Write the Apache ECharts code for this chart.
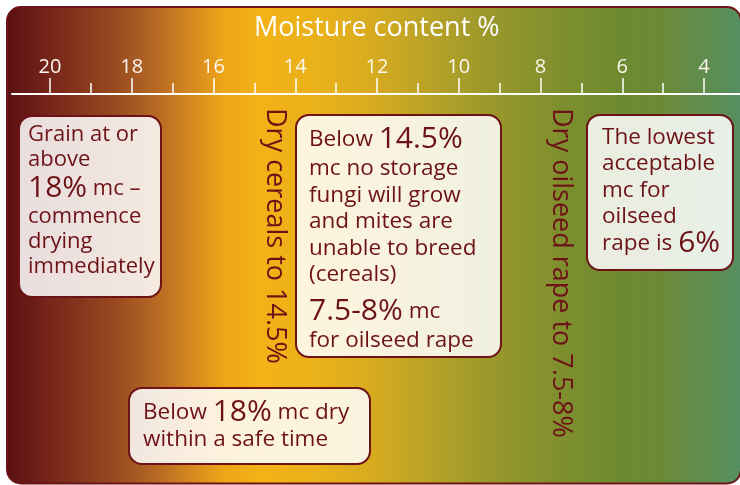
<!DOCTYPE html>
<html>
<head>
<meta charset="utf-8">
<script src="https://cdn.jsdelivr.net/npm/echarts@6/dist/echarts.min.js"></script>
<style>
  html, body { margin: 0; padding: 0; background: #fff; }
  #main { width: 740px; height: 485px; }
</style>
</head>
<body>
<div id="main"></div>
<script>
// moisture scale (reversed, wet on the left)
const tickValues = [20, 18, 16, 14, 12, 10, 8, 6, 4];
const targetValues = [14.5, 7.5];
const targetLabels = ['Dry cereals to 14.5%', 'Dry oilseed rape to 7.5-8%'];

const noteGrain = ['Grain at or', 'above', '{big|18%}{txt| mc –}', 'commence', 'drying', 'immediately'];
const noteStorage = ['Below {big|14.5%}', 'mc no storage', 'fungi will grow', 'and mites are',
  'unable to breed', '(cereals)', '{gap| }', '{big|7.5-8%}{txt| mc}', 'for oilseed rape'];
const noteRape = ['The lowest', 'acceptable', 'mc for', 'oilseed', 'rape is {bigT|6%}'];
const noteSafe = ['Below {big|18%}{txt| mc dry}', 'within a safe time'];

const DARK = '#6d1217';
const FONT = 'Open Sans';

const chart = echarts.init(document.getElementById('main'));

chart.setOption({
  backgroundColor: '#fff',
  animation: false,
  title: {
    text: 'Moisture content %',
    left: 254, top: 15, padding: 0,
    textStyle: { color: '#fff', fontFamily: FONT, fontSize: 27, fontWeight: 'normal' }
  },
  grid: [
    { left: 50, right: 36, top: 94, bottom: 0 },
    { left: 12, right: 0, top: 94, bottom: 0 }
  ],
  xAxis: [
    {
      type: 'value', gridIndex: 0, position: 'top', inverse: true,
      min: Math.min(...tickValues), max: Math.max(...tickValues),
      interval: tickValues[0] - tickValues[1],
      axisLine: { show: false, onZero: false },
      axisTick: { show: true, length: 16, lineStyle: { color: '#fff', width: 1.5 } },
      minorTick: { show: true, splitNumber: 2, length: 11, lineStyle: { color: '#fff', width: 1.5 } },
      splitLine: { show: false },
      axisLabel: { color: '#fbf6ee', fontFamily: FONT, fontSize: 20, margin: 17, showMinLabel: true, showMaxLabel: true }
    },
    {
      type: 'value', gridIndex: 1, position: 'top', min: 0, max: 1,
      axisLine: { show: true, onZero: false, lineStyle: { color: '#fff', width: 2 } },
      axisTick: { show: false }, axisLabel: { show: false }, splitLine: { show: false }
    }
  ],
  yAxis: [
    { type: 'value', gridIndex: 0, show: false, min: 0, max: 1 },
    { type: 'value', gridIndex: 1, show: false, min: 0, max: 1 }
  ],
  series: [{ type: 'scatter', xAxisIndex: 0, yAxisIndex: 0, data: [] }]
});

function noteBox(box, tx, ty, lines, fs, lh, bigLh) {
  const rich = {
    big: { fontFamily: FONT, fontSize: 30, lineHeight: bigLh || 32.5, fill: DARK },
    bigT: { fontFamily: FONT, fontSize: 30, lineHeight: 27, fill: DARK },
    txt: { fontFamily: FONT, fontSize: fs, lineHeight: lh, fill: DARK },
    gap: { fontFamily: FONT, fontSize: 4, lineHeight: 7, fill: DARK }
  };
  return [
    {
      type: 'rect', z: 10,
      shape: { x: box[0], y: box[1], width: box[2], height: box[3], r: 13 },
      style: { fill: 'rgba(255,255,255,0.86)', stroke: DARK, lineWidth: 2 }
    },
    {
      type: 'text', z: 11, x: tx, y: ty,
      style: {
        text: lines.join('\n'), fill: DARK, fontFamily: FONT, fontSize: fs, lineHeight: lh,
        align: 'left', verticalAlign: 'top', rich: rich
      }
    }
  ];
}

const panel = {
  type: 'rect', z: -10,
  shape: { x: 7, y: 7, width: 734, height: 476.5, r: 14 },
  style: {
    fill: {
      type: 'linear', x: 0, y: 0, x2: 1, y2: 0,
      colorStops: [
        { offset: 0, color: '#5c0f12' },
        { offset: 0.072, color: '#7b2a1b' },
        { offset: 0.14, color: '#95461f' },
        { offset: 0.195, color: '#b06424' },
        { offset: 0.249, color: '#d3861f' },
        { offset: 0.297, color: '#eda617' },
        { offset: 0.344, color: '#f3b217' },
        { offset: 0.426, color: '#e9b11a' },
        { offset: 0.494, color: '#d8ab1f' },
        { offset: 0.576, color: '#b8a227' },
        { offset: 0.657, color: '#9a982b' },
        { offset: 0.752, color: '#7f8f2e' },
        { offset: 0.834, color: '#6e8a30' },
        { offset: 0.888, color: '#6b8a38' },
        { offset: 0.943, color: '#618c4c' },
        { offset: 1, color: '#558f62' }
      ]
    },
    stroke: DARK, lineWidth: 2
  }
};

const verticals = targetValues.map((v, i) => ({
  type: 'text', z: 5,
  x: chart.convertToPixel({ xAxisIndex: 0 }, v), y: 108,
  rotation: -Math.PI / 2,
  style: { text: targetLabels[i], fill: DARK, fontFamily: FONT, fontSize: 27, align: 'left', verticalAlign: 'middle' }
}));

chart.setOption({
  graphic: [panel].concat(
    verticals,
    noteBox([19, 116, 142, 181], 28, 122.7, noteGrain, 22, 25, 32),
    noteBox([296, 115, 205, 242], 309, 123, noteStorage, 22.5, 26.5),
    noteBox([587, 115, 146, 155], 602, 124, noteRape, 22.5, 26.5),
    noteBox([129, 388, 241, 76], 143, 397.8, noteSafe, 22.5, 26.5, 29)
  )
});
</script>
</body>
</html>
